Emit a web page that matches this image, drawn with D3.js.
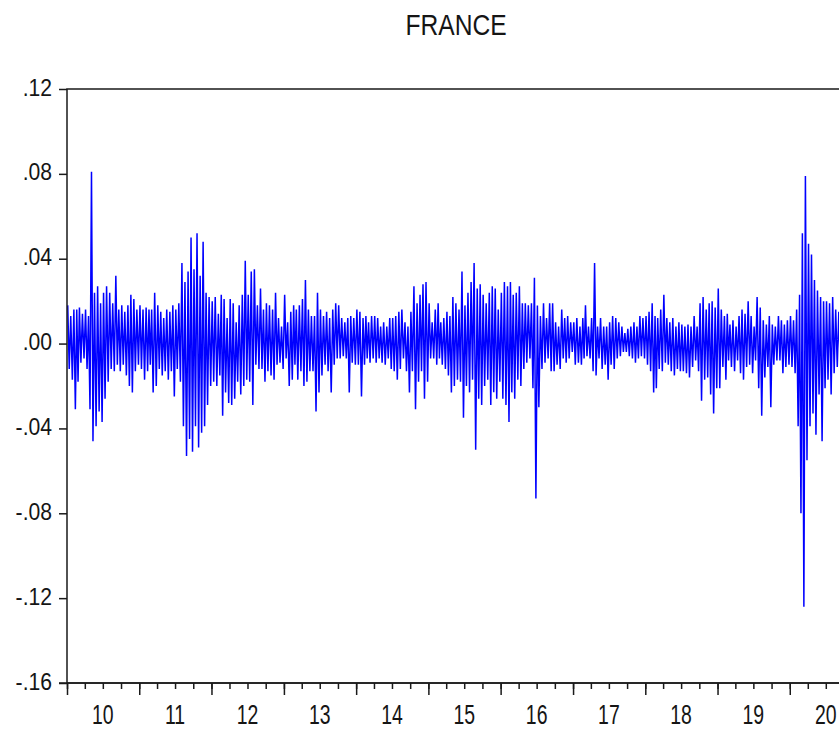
<!DOCTYPE html>
<html>
<head>
<meta charset="utf-8">
<script src="https://cdn.jsdelivr.net/npm/d3@7"></script>
<style>
  body { margin: 0; background: #fff; }
  svg text { font-family: "Liberation Sans", Arial, sans-serif; fill: #151515; }
</style>
</head>
<body>
<div id="chart"></div>
<script>
var title = 'FRANCE';
var yearLabels = ['10', '11', '12', '13', '14', '15', '16', '17', '18', '19', '20'];
var yTicks = [0.12, 0.08, 0.04, 0.00, -0.04, -0.08, -0.12, -0.16];
var yTickLabels = ['.12', '.08', '.04', '.00', '-.04', '-.08', '-.12', '-.16'];

// half-month highs and lows of the daily series (x 0.001)
var hi2010 = [18, 13, 16, 16, 17, 14, 16, 13, 81, 24, 27, 19, 24, 27, 24, 19, 32, 16, 18, 15, 18, 23, 21, 16];
var lo2010 = [-12, -17, -31, -18, -9, -7, -12, -31, -46, -39, -32, -37, -26, -18, -12, -13, -10, -13, -10, -15, -20, -23, -13, -10];
var hi2011 = [18, 16, 17, 16, 16, 24, 18, 15, 12, 16, 15, 18, 16, 19, 38, 29, 34, 50, 35, 52, 32, 48, 24, 22];
var lo2011 = [-12, -17, -13, -10, -23, -20, -12, -15, -13, -17, -13, -25, -12, -18, -39, -53, -45, -51, -39, -49, -42, -39, -29, -20];
var hi2012 = [20, 22, 14, 23, 21, 12, 21, 19, 10, 18, 23, 39, 23, 34, 35, 18, 26, 16, 19, 18, 16, 24, 12, 8];
var lo2012 = [-18, -20, -15, -34, -23, -28, -29, -26, -18, -24, -20, -17, -18, -29, -10, -12, -12, -18, -13, -15, -17, -10, -9, -12];
var hi2013 = [23, 10, 15, 18, 16, 18, 21, 30, 16, 13, 13, 24, 16, 13, 15, 12, 16, 19, 18, 12, 10, 12, 13, 12];
var lo2013 = [-7, -20, -17, -10, -17, -13, -20, -18, -13, -13, -32, -23, -15, -10, -13, -23, -10, -7, -7, -6, -7, -23, -9, -10];
var hi2014 = [16, 15, 12, 13, 10, 13, 13, 12, 8, 10, 8, 12, 12, 13, 15, 16, 10, 8, 15, 27, 19, 23, 28, 29];
var lo2014 = [-10, -25, -10, -7, -9, -7, -9, -7, -9, -10, -7, -12, -13, -17, -12, -7, -13, -23, -13, -31, -18, -13, -26, -18];
var hi2015 = [19, 10, 16, 19, 10, 12, 15, 13, 22, 19, 16, 34, 18, 24, 29, 38, 26, 28, 23, 19, 24, 27, 26, 16];
var lo2015 = [-7, -7, -10, -7, -10, -12, -15, -23, -20, -17, -18, -35, -20, -23, -17, -50, -26, -29, -20, -17, -29, -23, -26, -18];
var hi2016 = [24, 29, 27, 29, 23, 24, 27, 19, 19, 18, 19, 31, 18, 13, 19, 12, 19, 19, 10, 8, 16, 12, 13, 10];
var lo2016 = [-26, -29, -37, -23, -26, -17, -20, -12, -9, -7, -21, -73, -30, -12, -9, -7, -13, -13, -10, -12, -7, -9, -7, -4];
var hi2017 = [10, 12, 8, 12, 18, 8, 12, 38, 8, 12, 8, 8, 10, 13, 12, 10, 8, 5, 7, 8, 10, 8, 13, 12];
var lo2017 = [-10, -9, -10, -7, -6, -7, -13, -15, -7, -12, -10, -17, -10, -12, -7, -6, -4, -4, -6, -7, -9, -7, -6, -7];
var hi2018 = [13, 15, 19, 13, 12, 16, 23, 12, 10, 12, 8, 10, 9, 8, 9, 8, 13, 8, 19, 22, 16, 19, 20, 17];
var lo2018 = [-10, -13, -23, -21, -12, -13, -9, -10, -13, -15, -12, -13, -13, -14, -16, -11, -8, -13, -27, -17, -16, -24, -33, -21];
var hi2019 = [26, 16, 13, 14, 9, 11, 8, 13, 16, 14, 20, 13, 8, 22, 17, 11, 9, 13, 9, 8, 13, 11, 9, 11];
var lo2019 = [-21, -11, -17, -8, -11, -13, -8, -14, -17, -11, -10, -14, -8, -21, -34, -16, -11, -30, -10, -8, -8, -14, -11, -10];
var hi2020 = [13, 11, 16, 23, 52, 79, 47, 42, 30, 25, 22, 20, 20, 19, 22, 16, 15, 14];
var lo2020 = [-11, -14, -39, -80, -124, -55, -39, -33, -43, -24, -46, -21, -17, -24, -14, -11, -12, -10];

var years = [
  {year: 2010, hi: hi2010, lo: lo2010},
  {year: 2011, hi: hi2011, lo: lo2011},
  {year: 2012, hi: hi2012, lo: lo2012},
  {year: 2013, hi: hi2013, lo: lo2013},
  {year: 2014, hi: hi2014, lo: lo2014},
  {year: 2015, hi: hi2015, lo: lo2015},
  {year: 2016, hi: hi2016, lo: lo2016},
  {year: 2017, hi: hi2017, lo: lo2017},
  {year: 2018, hi: hi2018, lo: lo2018},
  {year: 2019, hi: hi2019, lo: lo2019},
  {year: 2020, hi: hi2020, lo: lo2020}
];

var width = 839, height = 732;
var plotLeft = 67, plotRight = 844, plotTop = 89, plotBottom = 683;

var svg = d3.select('#chart').append('svg')
    .attr('width', width)
    .attr('height', height);

var x = d3.scaleTime()
    .domain([new Date(2010, 0, 1), new Date(2020, 9, 1)])
    .range([plotLeft, plotRight]);
var y = d3.scaleLinear()
    .domain([-0.16, 0.12])
    .range([plotBottom, plotTop]);

// each half month gives its high then its low, so the line zigzags like the daily data
var points = [];
years.forEach(function(yr) {
  yr.hi.forEach(function(h, k) {
    var month = Math.floor(k / 2);
    var start = new Date(yr.year, month, k % 2 ? 16 : 1).getTime();
    var end = (k % 2 ? new Date(yr.year, month + 1, 1) : new Date(yr.year, month, 16)).getTime();
    points.push({date: new Date(start + (end - start) * 0.25), v: h / 1000});
    points.push({date: new Date(start + (end - start) * 0.75), v: yr.lo[k] / 1000});
  });
});

svg.append('clipPath').attr('id', 'plotclip')
  .append('rect')
    .attr('x', plotLeft)
    .attr('y', plotTop)
    .attr('width', plotRight - plotLeft)
    .attr('height', plotBottom - plotTop);

svg.append('path')
    .datum(points)
    .attr('clip-path', 'url(#plotclip)')
    .attr('fill', 'none')
    .attr('stroke', '#0000ff')
    .attr('stroke-width', 1.5)
    .attr('d', d3.line()
      .x(function(d) { return x(d.date); })
      .y(function(d) { return y(d.v); })
    );

// frame
svg.append('rect')
    .attr('x', plotLeft)
    .attr('y', plotTop)
    .attr('width', plotRight - plotLeft)
    .attr('height', plotBottom - plotTop)
    .attr('fill', 'none')
    .attr('stroke', '#1a1a1a')
    .attr('stroke-width', 1.5);

// y axis
var yAxis = svg.append('g')
    .attr('transform', 'translate(' + plotLeft + ',0)')
    .call(d3.axisLeft(y).tickValues(yTicks).tickSize(8).tickFormat(''));
yAxis.select('.domain').remove();
yAxis.selectAll('line').attr('stroke', '#1a1a1a').attr('stroke-width', 1.5);

yTicks.forEach(function(v, i) {
  svg.append('text')
      .attr('transform', 'translate(52,' + (y(v) + 6.5) + ') scale(0.88,1)')
      .attr('text-anchor', 'end')
      .style('font-size', '24px')
      .text(yTickLabels[i]);
});

// x axis: years and quarters
var yearStarts = d3.timeYear.range(new Date(2010, 0, 1), new Date(2020, 9, 2));
var quarterStarts = d3.timeMonth.every(3).range(new Date(2010, 0, 1), new Date(2020, 9, 2));

var xMinor = svg.append('g')
    .attr('transform', 'translate(0,' + plotBottom + ')')
    .call(d3.axisBottom(x).tickValues(quarterStarts).tickSize(6).tickFormat(''));
xMinor.select('.domain').remove();
xMinor.selectAll('line').attr('stroke', '#1a1a1a').attr('stroke-width', 1.5);

var xMajor = svg.append('g')
    .attr('transform', 'translate(0,' + plotBottom + ')')
    .call(d3.axisBottom(x).tickValues(yearStarts).tickSize(12).tickFormat(''));
xMajor.select('.domain').remove();
xMajor.selectAll('line').attr('stroke', '#1a1a1a').attr('stroke-width', 1.5);

svg.append('line')
    .attr('x1', plotLeft - 8)
    .attr('x2', plotRight)
    .attr('y1', plotBottom)
    .attr('y2', plotBottom)
    .attr('stroke', '#1a1a1a')
    .attr('stroke-width', 1.5);

yearLabels.forEach(function(lbl, i) {
  svg.append('text')
      .attr('transform', 'translate(' + x(new Date(2010 + i, 6, 1)) + ',724) scale(0.72,1)')
      .attr('text-anchor', 'middle')
      .style('font-size', '27px')
      .text(lbl);
});

svg.append('text')
    .attr('transform', 'translate(456,35) scale(0.82,1)')
    .attr('text-anchor', 'middle')
    .style('font-size', '30px')
    .text(title);
</script>
</body>
</html>
